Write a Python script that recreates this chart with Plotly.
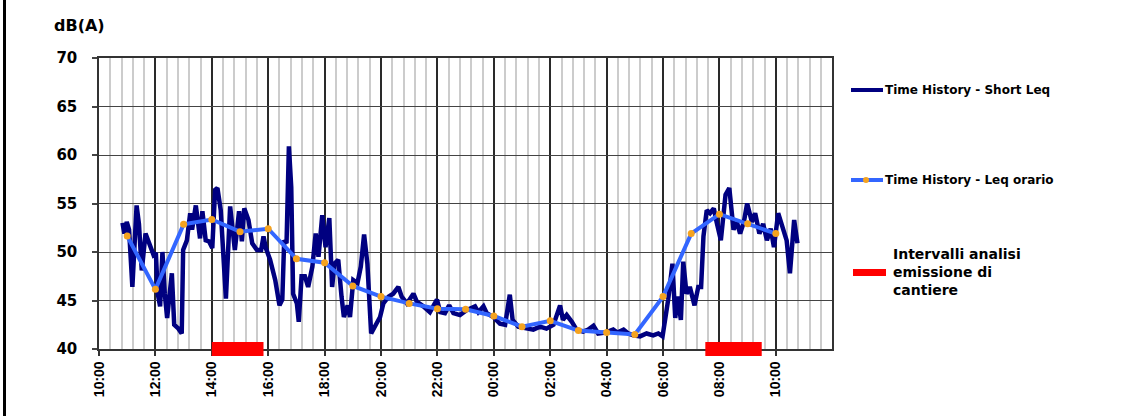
import plotly.graph_objects as go
from datetime import datetime, timedelta

BASE = datetime(2024, 1, 1)

# ---- Data ----
short_times = ["10:50","10:54","10:59","11:04","11:11","11:20","11:25","11:31","11:39","11:49",
    "11:56","12:01","12:05","12:10","12:15","12:20","12:25","12:35","12:40","12:49",
    "12:56","12:59","13:07","13:14","13:18","13:26","13:35","13:40","13:47","13:54",
    "14:01","14:07","14:12","14:19","14:30","14:39","14:49","14:58","15:04","15:09",
    "15:18","15:26","15:36","15:45","15:50","15:55","16:04","16:15","16:24","16:30",
    "16:34","16:39","16:44","16:49","16:53","17:01","17:05","17:11","17:18","17:25",
    "17:34","17:41","17:47","17:55","18:02","18:10","18:16","18:21","18:29","18:36",
    "18:41","18:49","18:54","19:01","19:10","19:17","19:24","19:31","19:39","19:49",
    "19:58","20:05","20:16","20:26","20:37","20:44","20:55","21:09","21:16","21:30",
    "21:44","21:59","22:06","22:16","22:25","22:34","22:48","23:02","23:20","23:27",
    "23:38","23:45","23:59","00:13","00:24","00:34","00:40","00:52","01:10","01:24",
    "01:38","01:52","02:07","02:21","02:27","02:35","02:46","02:56","03:10","03:21",
    "03:32","03:42","03:57","04:14","04:23","04:36","04:46","04:57","05:11","05:25",
    "05:39","05:50","05:59","06:11","06:20","06:26","06:31","06:38","06:43","06:50",
    "06:57","07:07","07:15","07:21","07:26","07:33","07:40","07:48","07:54","08:03",
    "08:13","08:21","08:30","08:37","08:44","08:52","08:59","09:09","09:16","09:25",
    "09:33","09:41","09:49","09:56","10:05","10:16","10:23","10:30","10:39","10:46"]
short_leq = [53.0,51.9,53.1,52.3,46.4,54.8,52.9,48.1,51.9,50.4,
    49.7,49.9,45.7,44.4,50.0,45.7,43.2,47.8,42.5,42.1,
    41.6,50.2,51.2,54.0,52.3,54.8,51.4,54.2,51.2,51.1,
    50.4,56.4,56.6,54.3,45.2,54.7,50.2,54.2,51.1,54.5,
    53.3,50.9,50.2,50.2,51.6,50.4,49.2,47.1,44.5,45.1,
    51.2,50.9,60.9,56.7,45.7,44.7,42.8,47.5,47.5,46.4,
    48.5,51.9,49.5,53.8,50.5,53.5,46.4,48.8,49.2,45.4,
    43.3,44.5,43.3,47.1,46.8,48.5,51.8,48.8,41.6,42.5,
    43.3,44.7,45.4,45.7,46.4,45.4,44.7,45.7,44.9,44.4,
    43.8,45.1,43.8,43.7,44.5,43.7,43.5,44.0,44.4,43.8,
    44.4,43.7,43.3,42.6,42.5,45.6,43.0,42.3,42.1,42.0,
    42.3,42.1,42.5,44.5,43.0,43.5,42.8,42.0,41.8,42.0,
    42.4,41.6,41.7,42.0,41.7,42.0,41.6,41.4,41.3,41.6,
    41.4,41.6,41.3,45.1,48.8,43.2,45.4,43.0,49.0,45.7,
    46.4,44.5,46.4,46.4,51.6,54.3,54.0,54.5,53.1,51.2,
    55.9,56.6,52.3,53.1,51.9,53.1,55.0,53.1,54.0,51.9,
    52.9,51.2,52.4,50.5,54.0,52.4,51.2,47.8,53.3,50.9]

hourly_times = ["11:00","12:00","13:00","14:00","15:00","16:00","17:00","18:00","19:00","20:00",
    "21:00","22:00","23:00","00:00","01:00","02:00","03:00","04:00","05:00","06:00",
    "07:00","08:00","09:00","10:00"]
hourly_leq = [51.65,46.15,52.85,53.35,52.1,52.4,49.3,48.9,46.5,45.4,
    44.7,44.15,44.1,43.4,42.3,42.9,41.9,41.7,41.5,45.4,
    51.9,53.9,52.9,51.9]

interval_starts = ["14:00", "07:30"]
interval_ends = ["15:50", "09:30"]

tick_labels = ["10:00","12:00","14:00","16:00","18:00","20:00","22:00",
               "00:00","02:00","04:00","06:00","08:00","10:00"]

y_ticks = [40, 45, 50, 55, 60, 65, 70]


def to_datetimes(times):
    """Clock times starting at 10:00 on day 1, rolling to day 2 after midnight."""
    out = []
    day = 0
    prev = None
    for t in times:
        h, m = map(int, t.split(":"))
        mins = h * 60 + m
        if prev is not None and mins < prev:
            day += 1
        prev = mins
        out.append(BASE + timedelta(days=day, minutes=mins))
    return out


def clock_to_dt(t):
    h, m = map(int, t.split(":"))
    d = 0 if h >= 10 else 1
    return BASE + timedelta(days=d, hours=h, minutes=m)


short_x = to_datetimes(short_times)
hourly_x = to_datetimes(hourly_times)
tick_x = to_datetimes(tick_labels)

NAVY = "#000080"
BLUE = "#3366FF"
ORANGE = "#F5A31F"
RED = "#FF0000"

fig = go.Figure()
fig.add_trace(go.Scatter(x=short_x, y=short_leq, mode="lines",
                         line=dict(color=NAVY, width=4.5), name="Time History - Short Leq",
                         showlegend=False))
fig.add_trace(go.Scatter(x=hourly_x, y=hourly_leq, mode="lines+markers",
                         line=dict(color=BLUE, width=4),
                         marker=dict(color=ORANGE, size=7, line=dict(width=0)),
                         name="Time History - Leq orario", showlegend=False))

PH = 291.0
PW = 733.0
shapes = []
for s, e in zip(interval_starts, interval_ends):
    shapes.append(dict(type="rect", xref="x", yref="paper",
                       x0=clock_to_dt(s), x1=clock_to_dt(e),
                       y0=-7 / PH, y1=7 / PH, fillcolor=RED, line=dict(width=0),
                       layer="above"))


def px(xp):
    return (xp - 99) / PW


def py(yp):
    return (349 - yp) / PH


# left border of the picture
shapes.append(dict(type="line", xref="paper", yref="paper",
                   x0=px(4.5), x1=px(4.5), y0=1.3, y1=-0.3,
                   line=dict(color="black", width=3)))

# manual legend
shapes.append(dict(type="line", xref="paper", yref="paper", x0=px(851), x1=px(883),
                   y0=py(90), y1=py(90), line=dict(color=NAVY, width=4)))
shapes.append(dict(type="line", xref="paper", yref="paper", x0=px(851), x1=px(883),
                   y0=py(180), y1=py(180), line=dict(color=BLUE, width=4)))
shapes.append(dict(type="circle", xref="paper", yref="paper", x0=px(863), x1=px(869),
                   y0=py(183), y1=py(177), fillcolor=ORANGE, line=dict(width=0)))
shapes.append(dict(type="rect", xref="paper", yref="paper", x0=px(853), x1=px(886),
                   y0=py(276), y1=py(269), fillcolor=RED, line=dict(width=0)))

LEG_FONT = "DejaVu Sans"
annotations = [
    dict(text="<b>dB(A)</b>", xref="paper", yref="paper", x=px(52), y=py(26),
         xanchor="left", yanchor="middle", showarrow=False,
         font=dict(family=LEG_FONT, size=16, color="black")),
    dict(text="<b>Time History - Short Leq</b>", xref="paper", yref="paper", x=px(883), y=py(90),
         xanchor="left", yanchor="middle", showarrow=False,
         font=dict(family=LEG_FONT, size=12, color="black")),
    dict(text="<b>Time History - Leq orario</b>", xref="paper", yref="paper", x=px(883), y=py(180),
         xanchor="left", yanchor="middle", showarrow=False,
         font=dict(family=LEG_FONT, size=12, color="black")),
    dict(text="<b>Intervalli analisi<br>emissione di<br>cantiere</b>", xref="paper", yref="paper",
         x=px(891), y=py(272), xanchor="left", yanchor="middle", align="left", showarrow=False,
         font=dict(family=LEG_FONT, size=14, color="black")),
]

fig.update_layout(
    width=1131, height=416,
    margin=dict(l=99, r=299, t=58, b=67),
    paper_bgcolor="white", plot_bgcolor="white",
    shapes=shapes, annotations=annotations,
    showlegend=False,
)

fig.update_xaxes(
    type="date",
    range=[BASE + timedelta(hours=10), BASE + timedelta(days=1, hours=11, minutes=59, seconds=30)],
    tickvals=tick_x, ticktext=["<b>%s</b>" % t for t in tick_labels],
    tickangle=-90,
    tickfont=dict(family="Liberation Sans, Arial", size=14, color="black"),
    ticks="outside", ticklen=5, tickcolor="#333", tickwidth=1.5,
    showgrid=True, gridcolor="#2a2a2a", gridwidth=1.5,
    minor=dict(dtick=24 * 60 * 1000, showgrid=True, gridcolor="#cccccc", gridwidth=1.5, ticks=""),
    showline=True, linecolor="#333", linewidth=1.5, mirror=True,
    zeroline=False,
)
fig.update_yaxes(
    range=[40, 70], tickvals=y_ticks, ticktext=["<b>%d</b>" % v for v in y_ticks],
    tickfont=dict(family=LEG_FONT, size=15, color="black"),
    ticks="outside", ticklen=5, tickcolor="#444", tickwidth=1.5,
    ticklabelstandoff=12,
    showgrid=True, gridcolor="#444", gridwidth=1.2,
    showline=True, linecolor="#333", linewidth=1.5, mirror=True,
    zeroline=False,
)

# remove the default 8px page margin so the figure sits at the window's top-left corner
fig.write_html("out.html", config={"displayModeBar": False},
               post_script="document.body.style.margin='0';")
